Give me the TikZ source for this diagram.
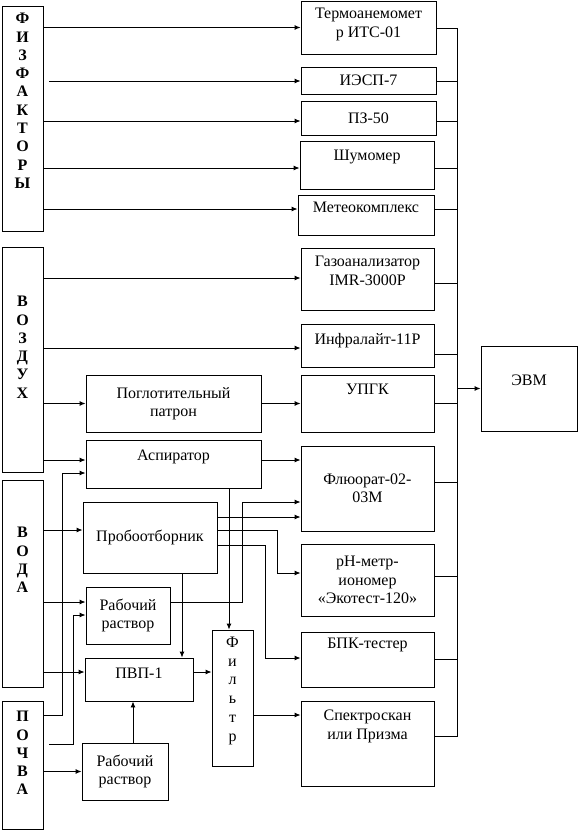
\documentclass[tikz,border=0pt]{standalone}
\usepackage{fontspec}
\setmainfont{Liberation Serif}
\usetikzlibrary{arrows.meta,positioning,calc}

\newcommand{\fs}{\fontsize{16}{18.5}\selectfont}

\begin{document}
\begin{tikzpicture}[x=1pt,y=-1pt,
    ln/.style={line width=0.9pt},
    arr/.style={ln, -{Latex[length=6pt,width=5pt]}},
    box/.style={draw, line width=0.9pt, inner sep=0pt, align=center, font=\fs},
    blk/.style 2 args={box, minimum width=#1pt, minimum height=#2pt},
    lbl/.style={anchor=north, align=center, font=\fs, inner sep=0pt},
    vlbl/.style={lbl, font=\fontsize{16}{18.3}\selectfont\bfseries},
    flbl/.style={lbl, font=\fontsize{16}{18.8}\selectfont},
    ttl/.style 2 args={label={[lbl,yshift=#1]north:{#2}}},
    vttl/.style 2 args={label={[vlbl,yshift=#1]north:{#2}}}]
  \useasboundingbox (0,0) rectangle (578,830);

  % sources
  \node[blk={41}{225}, vttl={-7.5pt}{Ф\\И\\З\\Ф\\А\\К\\Т\\О\\Р\\Ы}] (fiz) at (22.5,118.5) {};
  \node[blk={41}{225}, vttl={-49.5pt}{В\\О\\З\\Д\\У\\Х}] (vozd) at (22.5,359.5) {};
  \node[blk={41}{207}, vttl={-47.5pt}{В\\О\\Д\\А}] (voda) at (22.5,583.5) {};
  \node[blk={41}{128}, vttl={-10.5pt}{П\\О\\Ч\\В\\А}] (pochva) at (22.5,765) {};

  % instruments
  \node[blk={135}{53}, ttl={-7.5pt}{Термоанемомет\\р ИТС-01}] (termo) at (368.5,27.5) {};
  \node[blk={135}{27}] (iesp) at (368.5,80.5) {ИЭСП-7};
  \node[blk={135}{34}] (pz) at (368.5,118) {ПЗ-50};
  \node[blk={134}{48}, ttl={-9.5pt}{Шумомер}] (shum) at (367,165) {};
  \node[blk={136}{40}, ttl={-7.5pt}{Метеокомплекс}] (meteo) at (366,215) {};
  \node[blk={133}{62}, ttl={-8.5pt}{Газоанализатор\\IMR-3000P}] (gaz) at (367.5,279) {};
  \node[blk={133}{43}, ttl={-9.5pt}{Инфралайт-11Р}] (infra) at (367.5,345.5) {};
  \node[blk={133}{57}, ttl={-9pt}{УПГК}] (upgk) at (367.5,403.5) {};
  \node[blk={133}{85}] (fluor) at (367.5,488.5) {Флюорат-02-\\03М};
  \node[blk={133}{72}] (ph) at (367.5,580) {рН-метр-\\иономер\\«Экотест-120»};
  \node[blk={133}{55}, ttl={-6.5pt}{БПК-тестер}] (bpk) at (367.5,659.5) {};
  \node[blk={133}{85}, ttl={-9.5pt}{Спектроскан\\или Призма}] (spektr) at (367.5,743.5) {};
  \node[blk={96}{85}, ttl={-29.5pt}{ЭВМ}] (evm) at (529,388.5) {};

  % sample preparation
  \node[blk={175}{57}] (pogl) at (173.5,403.5) {Поглотительный\\патрон};
  \node[blk={175}{48}, ttl={-10.5pt}{Аспиратор}] (aspir) at (173.5,464) {};
  \node[blk={134}{71}] (probo) at (150,537.5) {Пробоотборник};
  \node[blk={84}{57}] (rabv) at (128,615.5) {Рабочий\\раствор};
  \node[blk={108}{43}, ttl={-10pt}{ПВП-1}] (pvp) at (139,679.5) {};
  \node[blk={86}{57}] (rabp) at (125,771.5) {Рабочий\\раствор};
  \node[blk={41}{136}, label={[flbl,yshift=-7pt]north:{Ф\\и\\л\\ь\\т\\р}}] (filtr) at (232.5,698) {};

  \coordinate (f2) at (49,81);
  \coordinate (p2) at (49,744);
  \coordinate (bus) at (457,0);

  % Физфакторы
  \draw[arr] (fiz.east |- termo.west) -- (termo.west);
  \draw[arr] (f2) -- (f2 -| iesp.west);
  \draw[arr] (fiz.east |- 0,121) -- (pz.west |- 0,121);
  \draw[arr] (fiz.east |- 0,168) -- (shum.west |- 0,168);
  \draw[arr] (fiz.east |- 0,209) -- (meteo.west |- 0,209);

  % Воздух
  \draw[arr] (vozd.east |- 0,278) -- (gaz.west |- 0,278);
  \draw[arr] (vozd.east |- 0,348) -- (infra.west |- 0,348);
  \draw[arr] (vozd.east |- pogl.west) -- (pogl.west);
  \draw[arr] (vozd.east |- 0,460) -- (aspir.west |- 0,460);
  \draw[arr] (pogl.east) -- (upgk.west |- pogl.east);
  \draw[arr] (aspir.east |- 0,460) -- (fluor.west |- 0,460);
  \draw[arr] (aspir.south -| 229,0) -- (filtr.north -| 229,0);

  % Вода
  \draw[arr] (voda.east |- 0,530) -- (probo.west |- 0,530);
  \draw[arr] (voda.east |- 0,602) -- (rabv.west |- 0,602);
  \draw[arr] (voda.east |- 0,672) -- (pvp.west |- 0,672);
  \draw[arr] (probo.east |- 0,517) -- (fluor.west |- 0,517);
  \draw[arr] (rabv.east |- 0,602) -| (242,502) -- (fluor.west |- 0,502);
  \draw[arr] (probo.east |- 0,530) -| (277,573) -- (ph.west |- 0,573);
  \draw[arr] (probo.east |- 0,545) -| (265,658) -- (bpk.west |- 0,658);
  \draw[arr] (probo.south -| 182,0) -- (pvp.north -| 182,0);
  \draw[arr] (pvp.east |- 0,672) -- (filtr.west |- 0,672);
  \draw[arr] (p2) -| (73,615) -- (rabv.west |- 0,615);

  % Почва
  \draw[arr] (pochva.east |- 0,715) -| (62,473) -- (aspir.west |- 0,473);
  \draw[arr] (pochva.east |- rabp.west) -- (rabp.west);
  \draw[arr] (rabp.north -| 133,0) -- (pvp.south -| 133,0);
  \draw[arr] (filtr.east |- 0,715) -- (spektr.west |- 0,715);

  % шина к ЭВМ
  \draw[ln] (termo.east |- 0,28) -- (bus |- 0,28) -- (bus |- 0,736) -- (spektr.east |- 0,736);
  \foreach \b/\y in {iesp/81,pz/121,shum/168,meteo/209,gaz/283,infra/354,upgk/403,fluor/482,ph/576,bpk/659}
    \draw[ln] (\b.east |- 0,\y) -- (bus |- 0,\y);
  \draw[arr] (bus |- evm.west) -- (evm.west);
\end{tikzpicture}
\end{document}
